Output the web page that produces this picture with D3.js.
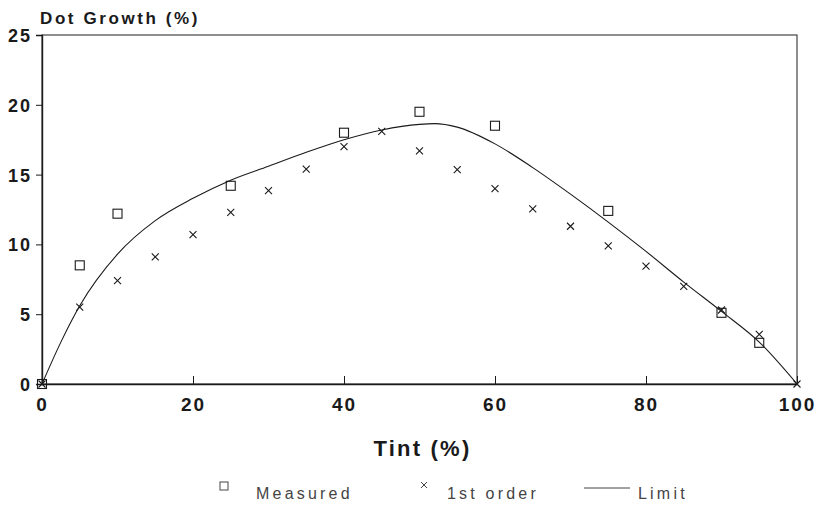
<!DOCTYPE html>
<html>
<head>
<meta charset="utf-8">
<script src="https://cdn.jsdelivr.net/npm/d3@7"></script>
<style>
  body { margin: 0; background: #fff; }
  svg { display: block; }
</style>
</head>
<body>
<div id="chart"></div>
<script>
// tint values (%) and dot growth (%)
const measuredTint = [0, 5, 10, 25, 40, 50, 60, 75, 90, 95];
const measuredGrowth = [0, 8.5, 12.2, 14.2, 18.0, 19.5, 18.5, 12.4, 5.1, 2.95];

const firstTint = [0, 5, 10, 15, 20, 25, 30, 35, 40, 45, 50, 55, 60, 65, 70, 75, 80, 85, 90, 95, 100];
const firstGrowth = [0, 5.5, 7.4, 9.1, 10.7, 12.3, 13.85, 15.4, 17.0, 18.1, 16.7, 15.35, 14.0, 12.55, 11.3, 9.9, 8.45, 7.0, 5.3, 3.55, 0];

const limitTint = [0, 2.5, 5, 10, 15, 20, 25, 30, 35, 40, 45, 50, 52, 55, 60, 65, 70, 75, 80, 85, 90, 95, 100];
const limitGrowth = [0, 3.0, 5.6, 9.3, 11.7, 13.3, 14.6, 15.6, 16.6, 17.5, 18.2, 18.6, 18.65, 18.4, 17.2, 15.5, 13.6, 11.6, 9.5, 7.3, 5.2, 3.0, 0];

const xTicks = [0, 20, 40, 60, 80, 100];
const yTicks = [0, 5, 10, 15, 20, 25];

const width = 820, height = 514;
const margin = { top: 35, right: 23, bottom: 130, left: 42 };

const x = d3.scaleLinear().domain([0, 100]).range([margin.left, width - margin.right]);
const y = d3.scaleLinear().domain([0, 25]).range([height - margin.bottom, margin.top]);

const svg = d3.select("#chart").append("svg")
  .attr("width", width)
  .attr("height", height)
  .style("font-family", "'Liberation Sans', Arial, sans-serif");

const ink = "#1a1a1a";

// frame
svg.append("rect")
  .attr("x", x(0)).attr("y", y(25))
  .attr("width", x(100) - x(0)).attr("height", y(0) - y(25))
  .attr("fill", "none").attr("stroke", "#444").attr("stroke-width", 1.2);

// y axis
const yAxis = svg.append("g")
  .attr("transform", `translate(${x(0)},0)`)
  .call(d3.axisLeft(y).tickValues(yTicks).tickSize(6).tickPadding(4));
yAxis.select(".domain").attr("stroke", ink).attr("stroke-width", 1.4);
yAxis.selectAll(".tick line").attr("stroke", ink);
yAxis.selectAll(".tick text")
  .attr("fill", ink)
  .style("font-size", "18px").style("font-weight", "bold").style("letter-spacing", "2px")
  .attr("dy", "0.36em");

// x axis, ticks pointing inward
const xAxis = svg.append("g")
  .attr("transform", `translate(0,${y(0)})`)
  .call(d3.axisBottom(x).tickValues(xTicks).tickSizeInner(-8).tickSizeOuter(0).tickPadding(14));
xAxis.select(".domain").attr("stroke", ink).attr("stroke-width", 1.4);
xAxis.selectAll(".tick line").attr("stroke", ink);
xAxis.selectAll(".tick text")
  .attr("fill", ink)
  .style("font-size", "19px").style("font-weight", "bold").style("letter-spacing", "2px");

// titles
svg.append("text")
  .attr("x", x(0) - 2).attr("y", 24)
  .attr("fill", ink)
  .style("font-size", "17px").style("font-weight", "bold").style("letter-spacing", "2.6px")
  .text("Dot Growth (%)");

svg.append("text")
  .attr("x", (x(0) + x(100)) / 2 + 3).attr("y", 456)
  .attr("text-anchor", "middle")
  .attr("fill", ink)
  .style("font-size", "22px").style("font-weight", "bold").style("letter-spacing", "2.2px")
  .text("Tint (%)");

// limit curve
const limitData = limitTint.map((t, i) => [t, limitGrowth[i]]);
svg.append("path")
  .datum(limitData)
  .attr("fill", "none")
  .attr("stroke", ink)
  .attr("stroke-width", 1.1)
  .attr("d", d3.line().x(d => x(d[0])).y(d => y(d[1])).curve(d3.curveMonotoneX));

// measured squares
const sq = 9;
svg.append("g").selectAll("rect")
  .data(measuredTint.map((t, i) => [t, measuredGrowth[i]]))
  .join("rect")
  .attr("x", d => x(d[0]) - sq / 2)
  .attr("y", d => y(d[1]) - sq / 2)
  .attr("width", sq).attr("height", sq)
  .attr("fill", "none").attr("stroke", ink).attr("stroke-width", 1.1);

// 1st order crosses
const cr = 3.5;
svg.append("g").selectAll("path")
  .data(firstTint.map((t, i) => [t, firstGrowth[i]]))
  .join("path")
  .attr("d", d => {
    const cx = x(d[0]), cy = y(d[1]);
    return `M${cx - cr},${cy - cr}L${cx + cr},${cy + cr}M${cx - cr},${cy + cr}L${cx + cr},${cy - cr}`;
  })
  .attr("stroke", ink).attr("stroke-width", 1.1);

// legend
const legendY = 494;
const legendInk = "#444";
const legend = svg.append("g")
  .style("font-size", "16px").style("letter-spacing", "3.2px")
  .attr("fill", legendInk);

legend.append("rect")
  .attr("x", 220).attr("y", legendY - 12).attr("width", 8).attr("height", 8)
  .attr("fill", "none").attr("stroke", legendInk).attr("stroke-width", 1);
legend.append("text").attr("x", 256).attr("y", legendY + 5).text("Measured");

legend.append("path")
  .attr("d", `M${421},${legendY - 12}L${427},${legendY - 6}M${421},${legendY - 6}L${427},${legendY - 12}`)
  .attr("stroke", legendInk).attr("stroke-width", 1);
legend.append("text").attr("x", 447).attr("y", legendY + 5).text("1st order");

legend.append("line")
  .attr("x1", 584).attr("x2", 630).attr("y1", legendY - 6).attr("y2", legendY - 6)
  .attr("stroke", legendInk).attr("stroke-width", 1);
legend.append("text").attr("x", 638).attr("y", legendY + 5).text("Limit");
</script>
</body>
</html>
